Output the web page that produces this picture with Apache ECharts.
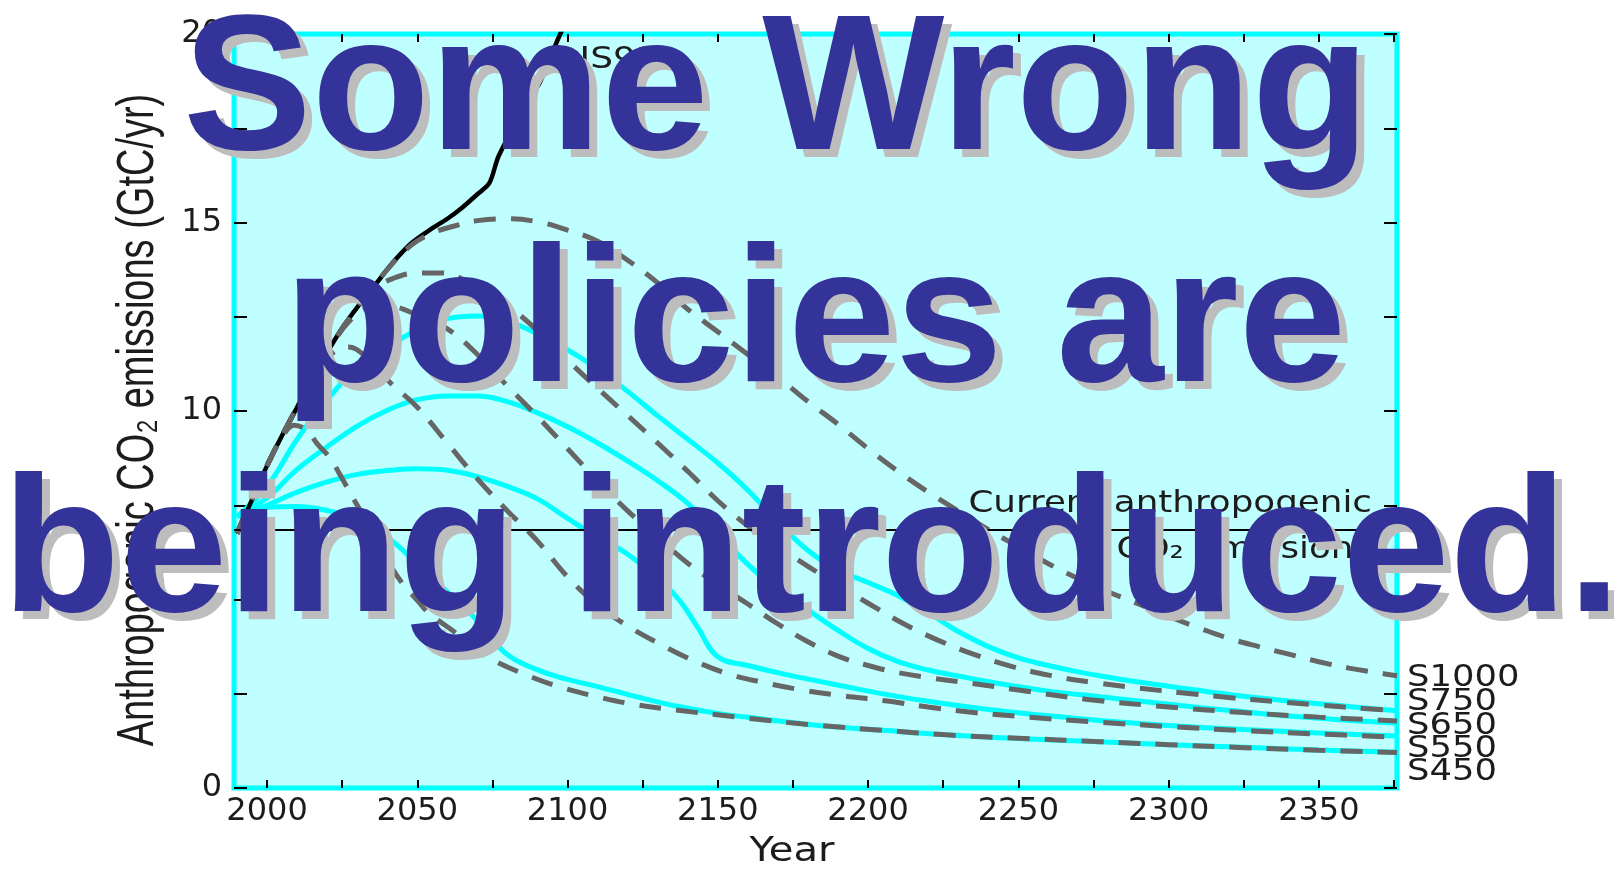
<!DOCTYPE html>
<html>
<head>
<meta charset="utf-8">
<script src="https://cdn.jsdelivr.net/npm/echarts@6/dist/echarts.min.js"></script>
<style>
  html, body { margin: 0; padding: 0; background: #ffffff; }
  #chart { width: 1614px; height: 869px; }
</style>
</head>
<body>
<div id="chart"></div>
<script>
// Axis ticks and labels
const xTickYears = [2000, 2025, 2050, 2075, 2100, 2125, 2150, 2175, 2200, 2225, 2250, 2275, 2300, 2325, 2350, 2375];
const xLabelYears = [2000, 2050, 2100, 2150, 2200, 2250, 2300, 2350];
const yTickValues = [0, 2.5, 5, 7.5, 10, 12.5, 15, 17.5, 20];
const yLabelValues = [0, 5, 10, 15, 20];

// IS92a reference emissions (GtC/yr)
const is92a = [[1990,6.75],[1995,7.65],[2000,8.55],[2005,9.35],[2010,10.1],[2015,10.85],[2020,11.55],[2025,12.2],[2030,12.75],[2036,13.35],[2042,13.95],[2048,14.45],[2055,14.85],[2060,15.1],[2065,15.4],[2070,15.75],[2074,16.05],[2077,16.75],[2084,17.8],[2091,18.75],[2097,19.9],[2100,20.4]];

// Stabilisation pathways, dashed
const dash1000 = [[1990,6.75],[2000,8.55],[2010,10.1],[2020,11.55],[2030,12.75],[2040,13.75],[2048,14.4],[2055,14.72],[2062,14.9],[2070,15.05],[2080,15.1],[2090,15.02],[2100,14.8],[2110,14.5],[2120,14.0],[2130,13.4],[2140,12.7],[2150,12.1],[2160,11.5],[2170,10.9],[2180,10.25],[2190,9.65],[2200,9.0],[2210,8.4],[2220,7.85],[2230,7.35],[2240,6.85],[2250,6.4],[2260,5.95],[2270,5.55],[2280,5.2],[2290,4.88],[2300,4.55],[2310,4.25],[2320,3.97],[2330,3.75],[2340,3.55],[2350,3.35],[2360,3.18],[2370,3.05],[2376,2.98]];
const dash750 = [[1990,6.75],[2000,8.55],[2010,10.1],[2020,11.55],[2030,12.75],[2036,13.25],[2042,13.52],[2050,13.66],[2058,13.66],[2066,13.47],[2074,13.15],[2083,12.62],[2092,11.98],[2100,11.35],[2110,10.6],[2120,9.88],[2130,9.15],[2140,8.4],[2150,7.62],[2160,6.95],[2170,6.4],[2180,5.88],[2190,5.38],[2200,4.9],[2212,4.35],[2223,3.93],[2235,3.55],[2248,3.22],[2261,2.98],[2275,2.8],[2290,2.65],[2305,2.52],[2320,2.4],[2335,2.3],[2350,2.2],[2365,2.11],[2376,2.05]];
const dash650 = [[1990,6.75],[2000,8.55],[2010,10.1],[2020,11.55],[2027,12.35],[2033,12.72],[2040,12.78],[2050,12.55],[2060,12.18],[2070,11.5],[2080,10.66],[2090,9.85],[2100,9.0],[2110,8.15],[2120,7.35],[2130,6.65],[2140,5.96],[2150,5.4],[2160,4.88],[2170,4.35],[2180,3.88],[2190,3.5],[2200,3.25],[2210,3.06],[2220,2.93],[2234,2.78],[2250,2.6],[2273,2.35],[2300,2.15],[2325,2.0],[2350,1.88],[2376,1.78]];
const dash550 = [[1990,6.75],[2000,8.55],[2010,10.1],[2017,11.05],[2022,11.55],[2027,11.7],[2032,11.5],[2041,10.75],[2050,10.1],[2060,9.15],[2070,8.2],[2080,7.35],[2090,6.55],[2100,5.6],[2110,4.85],[2120,4.3],[2130,3.85],[2140,3.45],[2153,3.04],[2165,2.8],[2178,2.6],[2191,2.45],[2205,2.32],[2220,2.15],[2233,2.02],[2250,1.9],[2274,1.76],[2300,1.63],[2325,1.52],[2350,1.43],[2376,1.35]];
const dash450 = [[1990,6.75],[1995,7.65],[2000,8.55],[2005,9.3],[2009,9.62],[2013,9.5],[2017,9.1],[2021,8.75],[2024,8.35],[2029,7.64],[2034,6.93],[2040,6.05],[2045,5.43],[2050,4.98],[2054,4.63],[2063,4.1],[2070,3.65],[2075,3.4],[2085,3.04],[2097,2.69],[2110,2.42],[2122,2.22],[2136,2.07],[2160,1.85],[2182,1.67],[2205,1.53],[2226,1.41],[2250,1.32],[2277,1.23],[2300,1.15],[2325,1.07],[2350,1.0],[2376,0.94]];

// Stabilisation pathways, solid
const solidA = [[1990,7.2],[2000,8.0],[2010,9.25],[2020,10.3],[2030,11.15],[2040,11.7],[2050,12.15],[2060,12.45],[2070,12.52],[2080,12.38],[2090,12.05],[2100,11.62],[2110,11.12],[2120,10.52],[2130,9.87],[2140,9.25],[2150,8.62],[2160,7.9],[2170,7.05],[2180,6.3],[2190,5.78],[2200,5.45],[2210,5.1],[2220,4.65],[2230,4.15],[2240,3.75],[2250,3.45],[2260,3.25],[2270,3.08],[2280,2.94],[2290,2.81],[2300,2.7],[2320,2.48],[2340,2.31],[2360,2.16],[2376,2.05]];
const solidB = [[1990,7.2],[2000,7.7],[2010,8.45],[2020,9.05],[2030,9.6],[2040,10.02],[2050,10.3],[2060,10.4],[2070,10.4],[2080,10.25],[2090,9.95],[2100,9.58],[2110,9.15],[2120,8.67],[2130,8.15],[2140,7.55],[2150,6.75],[2160,5.93],[2170,5.25],[2180,4.72],[2190,4.18],[2200,3.7],[2210,3.35],[2220,3.13],[2230,2.97],[2245,2.75],[2260,2.57],[2277,2.42],[2300,2.22],[2325,2.02],[2350,1.85],[2376,1.72]];
const solidC = [[1990,7.2],[2000,7.5],[2010,7.85],[2020,8.12],[2030,8.32],[2040,8.42],[2050,8.47],[2060,8.43],[2070,8.26],[2080,8.0],[2090,7.67],[2100,7.15],[2110,6.65],[2120,6.2],[2130,5.55],[2137,5.0],[2143,4.3],[2150,3.48],[2160,3.25],[2171,3.04],[2187,2.78],[2204,2.51],[2220,2.3],[2240,2.08],[2258,1.93],[2277,1.79],[2300,1.66],[2325,1.55],[2350,1.46],[2376,1.38]];
const solidD = [[1990,7.2],[2000,7.45],[2010,7.47],[2020,7.36],[2030,7.12],[2040,6.65],[2050,5.95],[2060,5.2],[2068,4.6],[2074,4.05],[2079,3.6],[2085,3.3],[2094,3.02],[2102,2.84],[2110,2.69],[2123,2.42],[2137,2.16],[2150,1.98],[2165,1.83],[2182,1.67],[2205,1.53],[2226,1.41],[2250,1.31],[2277,1.23],[2300,1.15],[2325,1.08],[2350,1.01],[2376,0.95]];

// Present-day emission level
const currentEmission = 6.85;

// Profile names at the right edge and the levels they sit at
const profileNames = ['S1000', 'S750', 'S650', 'S550', 'S450'];
const profileLabelLevels = [2.91, 2.28, 1.64, 1.03, 0.42];

const headline = ['Some Wrong ', 'policies are', 'being introduced.'];

const X_MIN = 1989, X_MAX = 2376;
const GRID = { left: 234, right: 217, top: 34, bottom: 81 };
const GRID_W = 1614 - GRID.left - GRID.right;
const GRID_H = 869 - GRID.top - GRID.bottom;
const TXT = '#1c1c1c';
const chartFont = '"DejaVu Sans", sans-serif';

const chart = echarts.init(document.getElementById('chart'), null, { renderer: 'canvas' });

function solid(name, data) {
  return {
    name, type: 'line', data, showSymbol: false, smooth: 0.4,
    xAxisIndex: 0, yAxisIndex: 0,
    lineStyle: { color: '#00ffff', width: 5 }, z: 2, silent: true
  };
}
function dashed(name, data) {
  return {
    name, type: 'line', data, showSymbol: false, smooth: 0.4,
    xAxisIndex: 0, yAxisIndex: 0,
    lineStyle: { color: '#666666', width: 5, type: [22, 15] }, z: 4, silent: true
  };
}

const tickStyle = { color: '#000', width: 2 };

// Tick-only axes framing the plot. The top/right axes carry the ticks;
// shifted copies of them draw the ticks along the bottom and left edges.
function tickX(offset, inside) {
  return {
    type: 'value', min: X_MIN, max: X_MAX, position: 'top', offset,
    axisLine: { show: false, onZero: false }, splitLine: { show: false },
    axisTick: { show: true, inside, length: 8, customValues: xTickYears, lineStyle: tickStyle },
    axisLabel: { show: false }
  };
}
function tickY(offset, inside) {
  return {
    type: 'value', min: 0, max: 20, position: 'right', offset,
    axisLine: { show: false, onZero: false }, splitLine: { show: false },
    axisTick: { show: true, inside, length: 13, customValues: yTickValues, lineStyle: tickStyle },
    axisLabel: { show: false }
  };
}

const option = {
  animation: false,
  backgroundColor: '#ffffff',
  grid: {
    left: GRID.left, right: GRID.right, top: GRID.top, bottom: GRID.bottom,
    show: true, backgroundColor: '#c0ffff', borderColor: '#00ffff', borderWidth: 5
  },
  xAxis: [
    {
      type: 'value', min: X_MIN, max: X_MAX, position: 'bottom',
      axisLine: { show: false, onZero: false }, splitLine: { show: false }, axisTick: { show: false },
      axisLabel: {
        show: true, customValues: xLabelYears, margin: 8, fontSize: 32, color: TXT, fontFamily: chartFont,
        formatter: (v) => String(v)
      }
    },
    tickX(0, true),
    tickX(-GRID_H, false)
  ],
  yAxis: [
    {
      type: 'value', min: 0, max: 20, position: 'left',
      axisLine: { show: false, onZero: false }, splitLine: { show: false }, axisTick: { show: false },
      axisLabel: {
        show: true, customValues: yLabelValues, margin: 12, fontSize: 32, color: TXT, fontFamily: chartFont,
        formatter: (v) => String(v)
      }
    },
    tickY(0, true),
    tickY(-GRID_W, false)
  ],
  series: [
    solid('solidA', solidA),
    solid('solidB', solidB),
    solid('solidC', solidC),
    solid('solidD', solidD),
    {
      name: 'IS92a', type: 'line', data: is92a, showSymbol: false, smooth: 0.3,
      xAxisIndex: 0, yAxisIndex: 0,
      lineStyle: { color: '#000000', width: 4.5 }, z: 3, silent: true,
      markLine: {
        silent: true, symbol: 'none', label: { show: false },
        lineStyle: { color: '#000000', width: 2, type: 'solid' },
        data: [{ yAxis: currentEmission }]
      }
    },
    dashed('S1000', dash1000),
    dashed('S750', dash750),
    dashed('S650', dash650),
    dashed('S550', dash550),
    dashed('S450', dash450)
  ]
};

chart.setOption(option);

// Annotations placed through the axes' own scales
const toPx = (x, y) => chart.convertToPixel({ xAxisIndex: 0, yAxisIndex: 0 }, [x, y]);
const graphics = [];

profileNames.forEach((name, i) => {
  const p = toPx(X_MAX, profileLabelLevels[i]);
  graphics.push({
    type: 'text', x: p[0] + 10, y: p[1], scaleX: 1.18, z: 50, silent: true,
    style: { text: name, font: '30px ' + chartFont, fill: TXT, textAlign: 'left', textVerticalAlign: 'middle' }
  });
});

const cur = toPx(X_MAX, currentEmission);
graphics.push({
  type: 'text', x: cur[0] - 25, y: cur[1] - 26, scaleX: 1.19, z: 50, silent: true,
  style: { text: 'Current anthropogenic', font: '30px ' + chartFont, fill: TXT, textAlign: 'right', textVerticalAlign: 'middle' }
});
graphics.push({
  type: 'text', x: cur[0] - 25, y: cur[1] + 20, scaleX: 1.19, z: 50, silent: true,
  style: { text: 'CO\u2082 emissions', font: '30px ' + chartFont, fill: TXT, textAlign: 'right', textVerticalAlign: 'middle' }
});

const isLbl = toPx(2104, 19.3);
graphics.push({
  type: 'text', x: isLbl[0], y: isLbl[1], scaleX: 1.2, z: 50, silent: true,
  style: { text: 'IS92a', font: '30px ' + chartFont, fill: TXT, textAlign: 'left', textVerticalAlign: 'middle' }
});

// Axis titles
graphics.push({
  type: 'text', x: 139, y: 420, rotation: Math.PI / 2, scaleY: 1.35, z: 50, silent: true,
  style: { text: 'Anthropogenic CO\u2082 emissions (GtC/yr)', font: '38px "Liberation Sans", sans-serif', fill: TXT, textAlign: 'center', textVerticalAlign: 'middle' }
});
graphics.push({
  type: 'text', x: 792, y: 852, scaleX: 1.18, z: 50, silent: true,
  style: { text: 'Year', font: '34px ' + chartFont, fill: TXT, textAlign: 'center', textVerticalAlign: 'middle' }
});

// Headline over the chart, with a flat grey drop shadow
const headlineX = [183, 284, 2];
const headlineY = [96, 328, 558];
const headFont = 'bold 193px "Liberation Sans", Arial, sans-serif';
headline.forEach((line, i) => {
  graphics.push({
    type: 'text', x: headlineX[i] + 8, y: headlineY[i] + 8, z: 100, silent: true,
    style: { text: line, font: headFont, fill: '#bdbdbd', textAlign: 'left', textVerticalAlign: 'middle' }
  });
});
headline.forEach((line, i) => {
  graphics.push({
    type: 'text', x: headlineX[i], y: headlineY[i], z: 101, silent: true,
    style: { text: line, font: headFont, fill: '#333399', textAlign: 'left', textVerticalAlign: 'middle' }
  });
});

chart.setOption({ graphic: { elements: graphics } });
</script>
</body>
</html>
